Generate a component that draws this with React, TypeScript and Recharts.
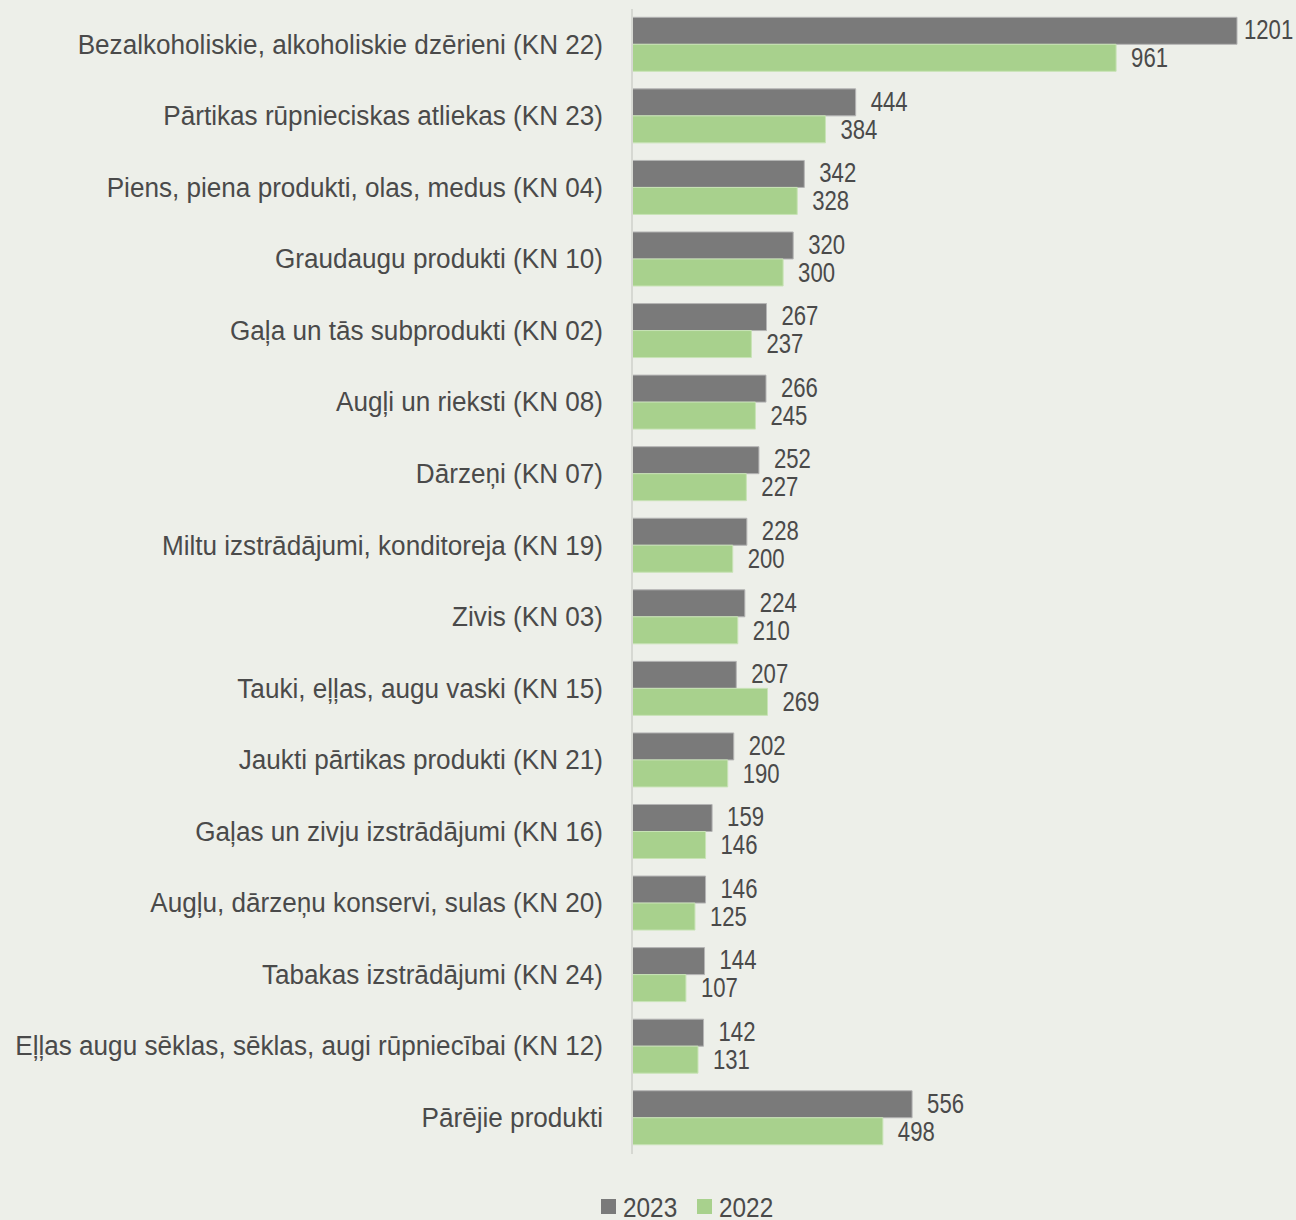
import React from "react";
import { BarChart, Bar, XAxis, YAxis, Legend, LabelList } from "recharts";

const categories = [
  "Bezalkoholiskie, alkoholiskie dzērieni (KN 22)",
  "Pārtikas rūpnieciskas atliekas (KN 23)",
  "Piens, piena produkti, olas, medus (KN 04)",
  "Graudaugu produkti (KN 10)",
  "Gaļa un tās subprodukti (KN 02)",
  "Augļi un rieksti (KN 08)",
  "Dārzeņi (KN 07)",
  "Miltu izstrādājumi, konditoreja (KN 19)",
  "Zivis (KN 03)",
  "Tauki, eļļas, augu vaski (KN 15)",
  "Jaukti pārtikas produkti (KN 21)",
  "Gaļas un zivju izstrādājumi (KN 16)",
  "Augļu, dārzeņu konservi, sulas (KN 20)",
  "Tabakas izstrādājumi (KN 24)",
  "Eļļas augu sēklas, sēklas, augi rūpniecībai (KN 12)",
  "Pārējie produkti",
];
const values2023 = [1201, 444, 342, 320, 267, 266, 252, 228, 224, 207, 202, 159, 146, 144, 142, 556];
const values2022 = [961, 384, 328, 300, 237, 245, 227, 200, 210, 269, 190, 146, 125, 107, 131, 498];
const seriesNames = ["2023", "2022"];
const seriesColors = ["#7A7A7A", "#A8D18D"];

const data = categories.map((c, i) => ({ name: c, v2023: values2023[i], v2022: values2022[i] }));

const FONT = "'Liberation Sans', Arial, sans-serif";
const TEXT = "#4A4A4A";
const W = 1296;
const H = 1220;

const CategoryTick = (props: any) => {
  const { x, y, payload } = props;
  return (
    <text
      transform={`translate(${x},${y - 1}) scale(0.933,1)`}
      textAnchor="end"
      dominantBaseline="central"
      fill={TEXT}
      fontSize={28}
      fontFamily={FONT}
    >
      {payload.value}
    </text>
  );
};

const makeLabel = (dy: number) => (props: any) => {
  const { x, y, width, height, value } = props;
  const tx = Math.min(x + width + 15, W - 52);
  return (
    <text
      transform={`translate(${tx},${y + height / 2 + dy}) scale(0.82,1)`}
      fill={TEXT}
      fontSize={27}
      fontFamily={FONT}
      dominantBaseline="central"
    >
      {value}
    </text>
  );
};

const LegendContent = () => (
  <div style={{ display: "flex", justifyContent: "center", alignItems: "center", height: 30, paddingLeft: 77 }}>
    {seriesNames.map((n, i) => (
      <div key={n} style={{ display: "flex", alignItems: "center", marginRight: i === 0 ? 20 : 0 }}>
        <div style={{ width: 15, height: 15, background: seriesColors[i], marginRight: 7 }} />
        <svg width={54} height={30}>
          <text
            transform="translate(0,16) scale(0.87,1)"
            dominantBaseline="central"
            fill={TEXT}
            fontSize={28}
            fontFamily={FONT}
          >
            {n}
          </text>
        </svg>
      </div>
    ))}
  </div>
);

export default function App() {
  return (
    <div style={{ position: "absolute", left: 0, top: 0, width: W, height: H, background: "#EDEFE9", overflow: "hidden" }}>
      <BarChart
        width={W}
        height={H}
        data={data}
        layout="vertical"
        margin={{ top: 9, right: 59, bottom: 36, left: 0 }}
        barGap={0}
        barCategoryGap="11.6%"
      >
        <XAxis type="number" domain={[0, 1201]} hide />
        <YAxis
          type="category"
          dataKey="name"
          width={632}
          tickLine={false}
          tickSize={0}
          tickMargin={29}
          axisLine={{ stroke: "#D6D8D2", strokeWidth: 2 }}
          tick={<CategoryTick />}
          interval={0}
        />
        <Legend
          verticalAlign="bottom"
          align="center"
          content={<LegendContent />}
          wrapperStyle={{ left: 0, width: W, height: 30, bottom: -1 }}
        />
        <Bar dataKey="v2023" name={seriesNames[0]} fill={seriesColors[0]} stroke="#B4B4B4" strokeWidth={1} isAnimationActive={false}>
          <LabelList dataKey="v2023" content={makeLabel(-1)} />
        </Bar>
        <Bar dataKey="v2022" name={seriesNames[1]} fill={seriesColors[1]} stroke="#C8E3B6" strokeWidth={1} isAnimationActive={false}>
          <LabelList dataKey="v2022" content={makeLabel(0)} />
        </Bar>
      </BarChart>
    </div>
  );
}
